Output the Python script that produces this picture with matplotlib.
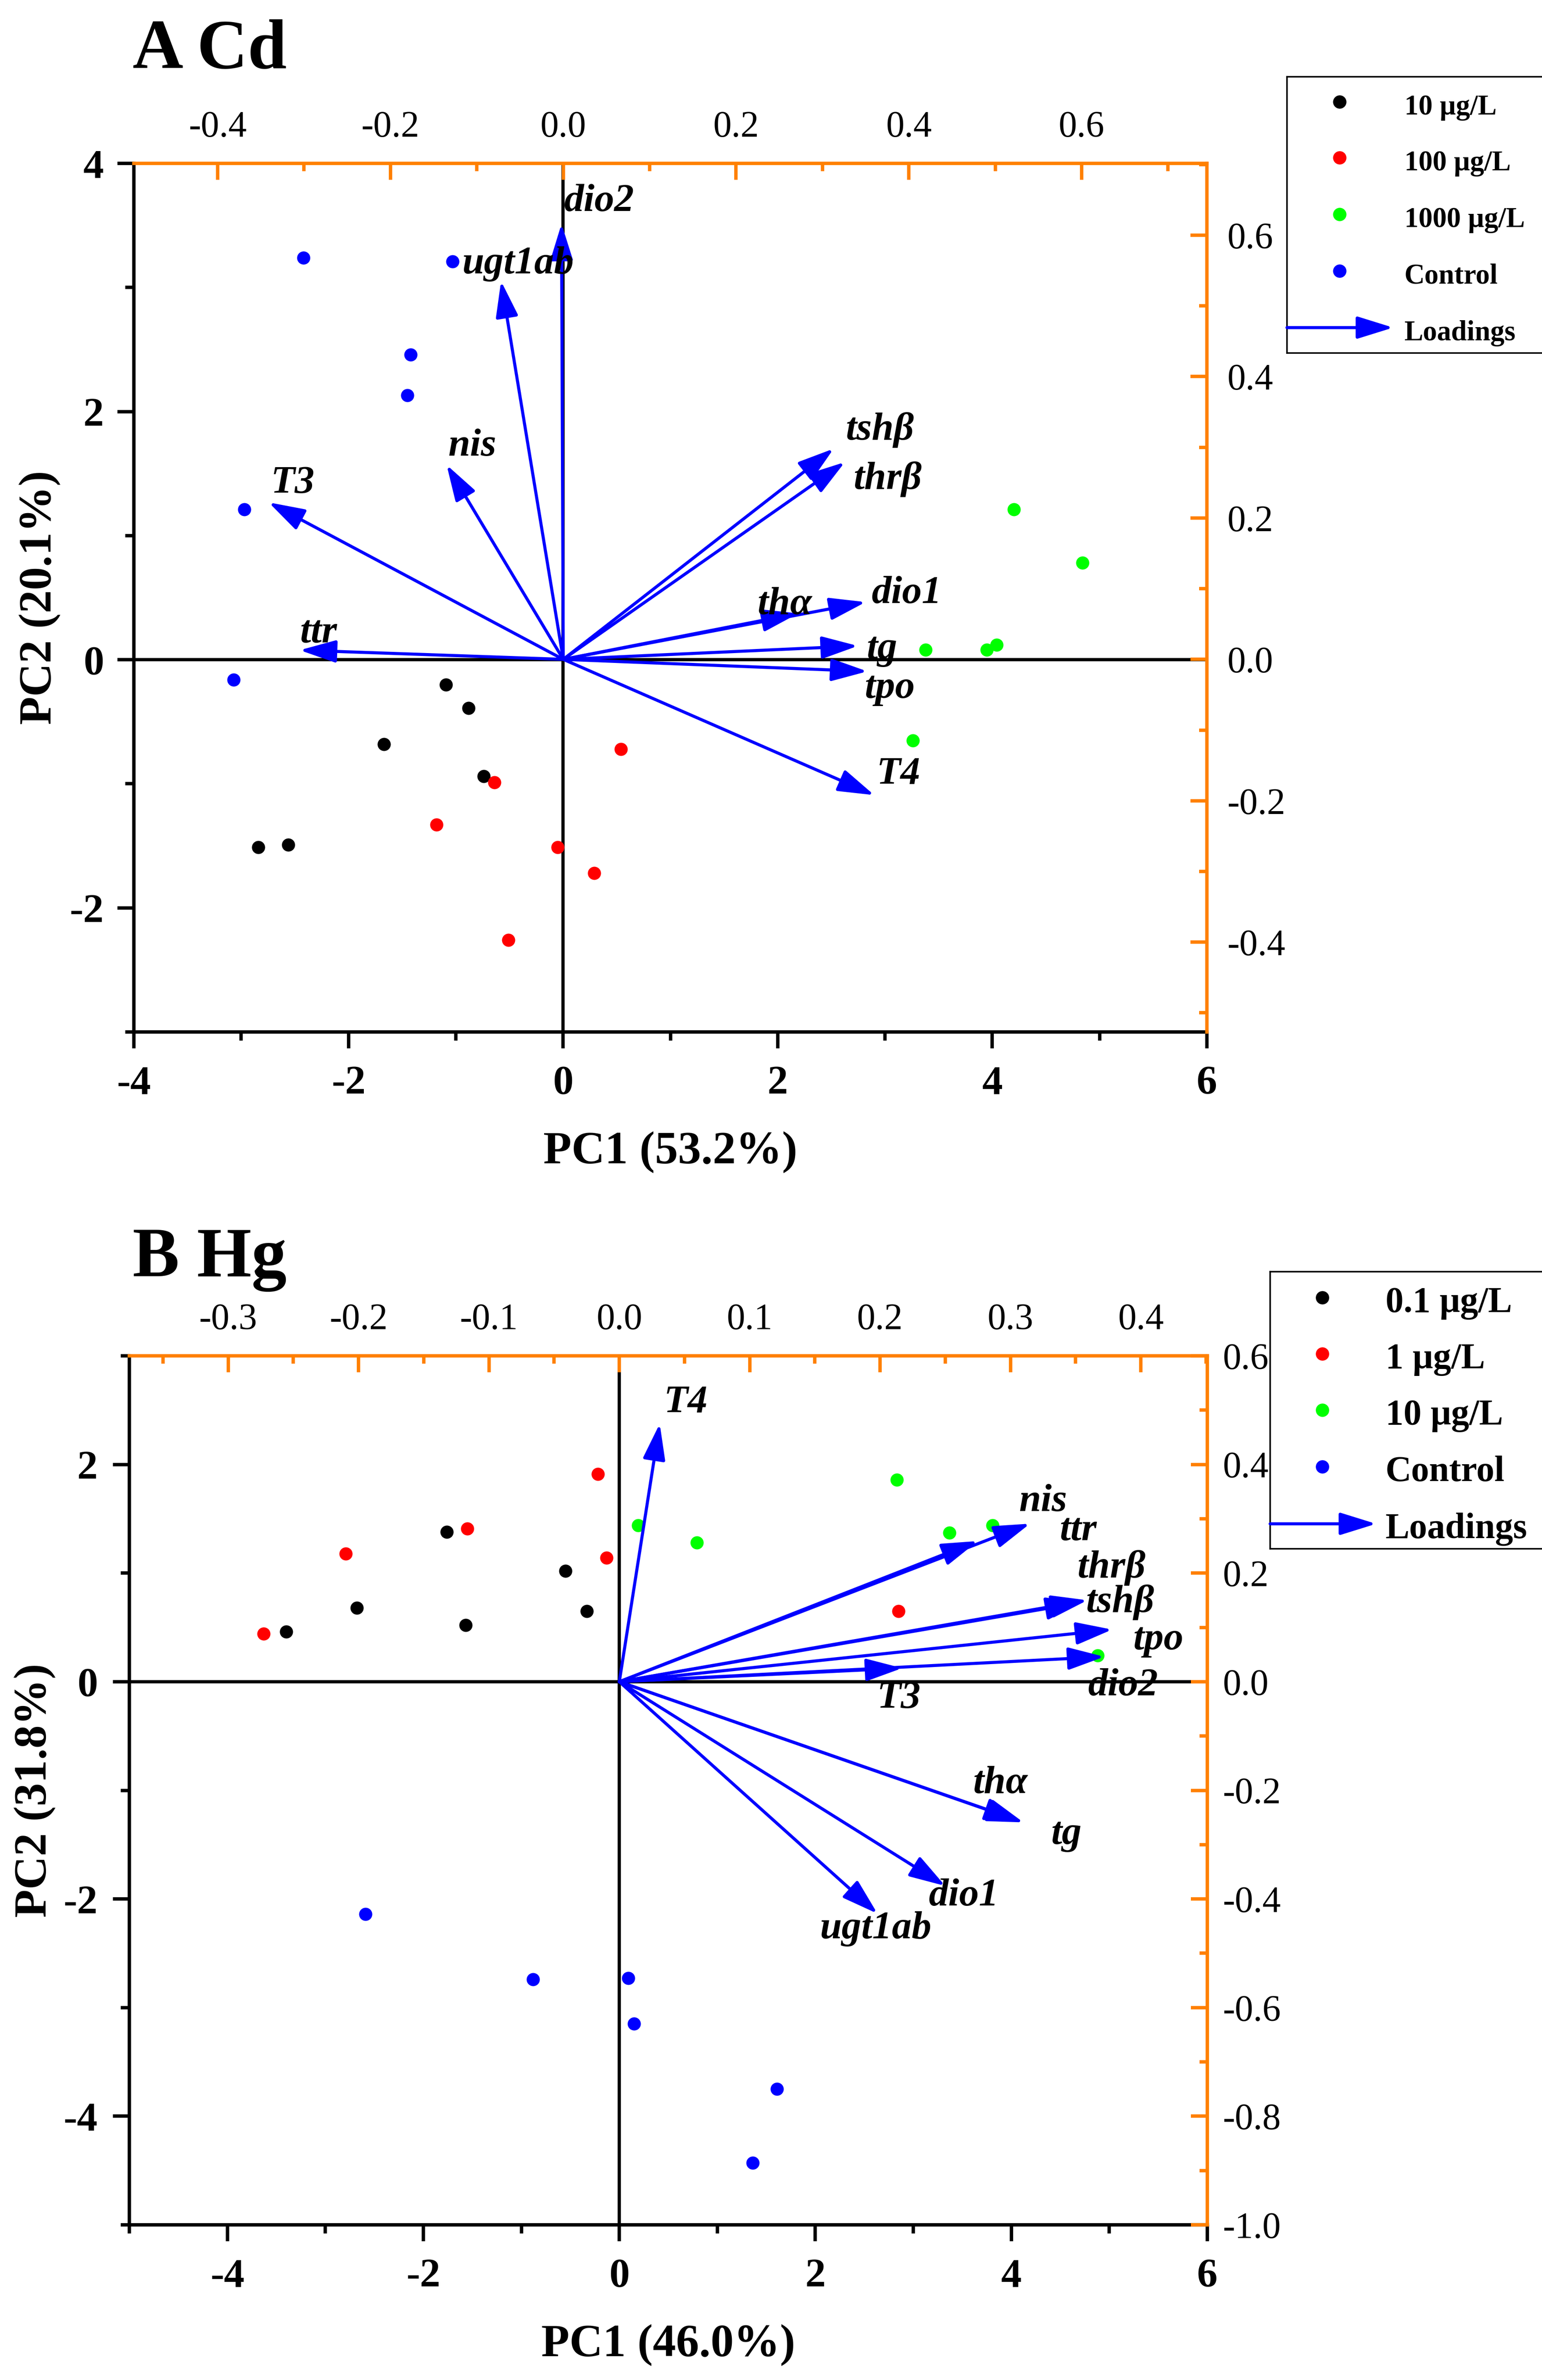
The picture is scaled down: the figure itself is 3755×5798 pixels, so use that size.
import numpy as np
import matplotlib.pyplot as plt

plt.rcParams['font.family'] = ['Liberation Serif', 'DejaVu Serif']
plt.rcParams['axes.unicode_minus'] = False

# ---- data: panel A (Cd) ----
cd_groups = ['10 µg/L', '100 µg/L', '1000 µg/L', 'Control']
cd_pc1 = [[-1.09, -0.88, -1.67, -0.74, -2.84, -2.56],
          [0.54, -0.64, -1.18, -0.05, 0.29, -0.51],
          [4.20, 4.84, 3.38, 3.95, 4.04, 3.26],
          [-2.42, -1.03, -1.42, -1.45, -2.97, -3.07]]
cd_pc2 = [[-0.20, -0.39, -0.68, -0.94, -1.51, -1.49],
          [-0.72, -0.99, -1.33, -1.51, -1.72, -2.26],
          [1.21, 0.78, 0.08, 0.08, 0.12, -0.65],
          [3.24, 3.21, 2.46, 2.13, 1.21, -0.16]]
cd_genes = ['dio2', 'ugt1ab', 'nis', 'T3', 'ttr', 'tshβ', 'thrβ', 'thα', 'dio1', 'tg', 'tpo', 'T4']
cd_load1 = [-0.002, -0.072, -0.135, -0.341, -0.305, 0.313, 0.326, 0.272, 0.350, 0.341, 0.352, 0.360]
cd_load2 = [0.616, 0.535, 0.275, 0.222, 0.013, 0.298, 0.279, 0.065, 0.081, 0.019, -0.017, -0.192]

# ---- data: panel B (Hg) ----
hg_groups = ['0.1 µg/L', '1 µg/L', '10 µg/L', 'Control']
hg_pc1 = [[-3.40, -2.68, -1.76, -1.57, -0.55, -0.33],
          [-3.63, -2.79, -1.55, -0.22, -0.13, 2.85],
          [0.19, 0.79, 2.83, 3.37, 3.81, 4.88],
          [-2.59, -0.88, 0.09, 0.15, 1.61, 1.36]]
hg_pc2 = [[0.46, 0.68, 1.38, 0.52, 1.02, 0.65],
          [0.44, 1.18, 1.41, 1.91, 1.14, 0.65],
          [1.44, 1.28, 1.86, 1.37, 1.44, 0.24],
          [-2.14, -2.74, -2.73, -3.15, -3.75, -4.43]]
hg_genes = ['T4', 'nis', 'ttr', 'thrβ', 'tshβ', 'tpo', 'dio2', 'T3', 'thα', 'tg', 'dio1', 'ugt1ab']
hg_load1 = [0.031, 0.275, 0.315, 0.359, 0.355, 0.378, 0.372, 0.217, 0.308, 0.310, 0.250, 0.198]
hg_load2 = [0.475, 0.259, 0.291, 0.150, 0.146, 0.096, 0.046, 0.025, -0.257, -0.259, -0.376, -0.427]

# label offsets (points) from arrow tips
cd_offsets = {'dio2': (22, 13), 'ugt1ab': (10, 10), 'nis': (15, 11), 'T3': (14, 11),
              'ttr': (11, 10), 'tshβ': (27, 11), 'thrβ': (25, -10), 'thα': (-8, 5),
              'dio1': (24, 5), 'tg': (14, -2), 'tpo': (13, -10), 'T4': (14, 12)}
hg_offsets = {'T4': (15, 12), 'nis': (38, 23), 'ttr': (28, -4), 'thrβ': (14, 19),
              'tshβ': (22, 0), 'tpo': (27, -6), 'dio2': (11, -17), 'T3': (-2, -18),
              'thα': (-12, 22), 'tg': (25, -7), 'dio1': (11, -6), 'ugt1ab': (-1, -9)}

colors = ['#000000', '#FF0000', '#00FF00', '#0000FF']
ORANGE = '#FF8000'
BLUE = '#0000FF'

W, H, DPI = 3755, 5798, 300
fig = plt.figure(figsize=(W / DPI, H / DPI), dpi=DPI)


def box(l, t, r, b):
    return [l / W, 1 - b / H, (r - l) / W, (b - t) / H]


def fmt1(v):
    v = round(float(v), 2)
    if abs(v) < 1e-9:
        v = 0.0
    return f'{v:.1f}'


ARROW = '-|>,head_length=0.9,head_width=0.28'


def panel(pos, xlim, ylim, lxlim, lylim, xt, yt, lxt, lyt,
          pc1, pc2, genes, l1, l2, offsets, xlabel, ylabel,
          rpad, lpad):
    ax = fig.add_axes(pos)
    ax.set_xlim(xlim)
    ax.set_ylim(ylim)
    for s in ['top', 'right']:
        ax.spines[s].set_visible(False)
    for s in ['left', 'bottom']:
        ax.spines[s].set_linewidth(2)
    ax.axhline(0, color='k', lw=1.9, zorder=1)
    ax.axvline(0, color='k', lw=1.9, zorder=1)
    for xs, ys, c in zip(pc1, pc2, colors):
        ax.plot(xs, ys, 'o', ms=7.7, color=c, mew=0, zorder=2)

    ax.set_xticks(xt[0])
    ax.set_xticklabels([str(int(v)) for v in xt[0]], fontsize=24, fontweight='bold')
    ax.set_xticks(xt[1], minor=True)
    ax.set_yticks(yt[0])
    ax.set_yticklabels([str(int(v)) for v in yt[0]], fontsize=24, fontweight='bold')
    ax.set_yticks(yt[1], minor=True)
    ax.tick_params(axis='x', which='major', direction='out', length=9.5, width=2, pad=10)
    ax.tick_params(axis='y', which='major', direction='out', length=9.5, width=2, pad=lpad)
    ax.tick_params(which='minor', direction='out', length=5, width=2)

    ax.set_xlabel(xlabel, fontsize=27, fontweight='bold', va='center')
    ax.xaxis.set_label_coords(0.5, -0.138)
    ax.set_ylabel(ylabel, fontsize=27, fontweight='bold', va='center')
    ax.yaxis.set_label_coords(-0.088, 0.5)

    axl = fig.add_axes(pos)
    axl.patch.set_alpha(0)
    axl.set_xlim(lxlim)
    axl.set_ylim(lylim)
    for s in ['left', 'bottom']:
        axl.spines[s].set_visible(False)
    for s in ['top', 'right']:
        axl.spines[s].set_color(ORANGE)
        axl.spines[s].set_linewidth(2)
    axl.xaxis.tick_top()
    axl.yaxis.tick_right()
    axl.set_xticks(lxt[0])
    axl.set_xticklabels([fmt1(v) for v in lxt[0]], fontsize=21.5)
    axl.set_xticks(lxt[1], minor=True)
    axl.set_yticks(lyt[0])
    axl.set_yticklabels([fmt1(v) for v in lyt[0]], fontsize=21.5)
    axl.set_yticks(lyt[1], minor=True)
    axl.tick_params(which='major', direction='in', length=9.5, width=2, color=ORANGE)
    axl.tick_params(which='minor', direction='in', length=4.5, width=2, color=ORANGE)
    axl.tick_params(axis='x', which='major', pad=11)
    axl.tick_params(axis='y', which='major', pad=rpad)

    for g, x, y in zip(genes, l1, l2):
        axl.annotate('', xy=(x, y), xytext=(0, 0),
                     arrowprops=dict(arrowstyle=ARROW, color=BLUE, lw=1.8,
                                     mutation_scale=20, shrinkA=0, shrinkB=0),
                     zorder=3)
        axl.annotate(g, xy=(x, y), xytext=offsets[g], textcoords='offset points',
                     ha='center', va='center', fontsize=23, fontweight='bold',
                     fontstyle='italic', zorder=4)
    return ax, axl


def legend(pos, labels, mx, tx, arrow_end, rows, fs):
    lg = fig.add_axes(pos)
    lg.set_xlim(0, 1)
    lg.set_ylim(0, 1)
    lg.set_xticks([])
    lg.set_yticks([])
    lg.spines['right'].set_visible(False)
    for s in ['left', 'top', 'bottom']:
        lg.spines[s].set_linewidth(0.9)
    for lab, c, r in zip(labels, colors, rows):
        lg.plot([mx], [1 - r], 'o', ms=7.8, color=c, mew=0)
        lg.text(tx, 1 - r - 0.02, lab, fontsize=fs, fontweight='bold', va='center', ha='left')
    r = rows[-1]
    lg.annotate('', xy=(arrow_end, 1 - r), xytext=(0, 1 - r),
                arrowprops=dict(arrowstyle=ARROW, color=BLUE, lw=1.8,
                                mutation_scale=20, shrinkA=0, shrinkB=0))
    lg.text(tx, 1 - r - 0.02, 'Loadings', fontsize=fs, fontweight='bold', va='center', ha='left')


# ---- panel A ----
panel(box(326, 398, 2939, 2514), (-4, 6), (-3, 4), (-0.497, 0.745), (-0.527, 0.7015),
      ([-4, -2, 0, 2, 4, 6], [-3, -1, 1, 3, 5]),
      ([-2, 0, 2, 4], [-3, -1, 1, 3]),
      (np.arange(-0.4, 0.61, 0.2), np.arange(-0.3, 0.71, 0.2)),
      (np.arange(-0.4, 0.61, 0.2), np.arange(-0.5, 0.71, 0.2)),
      cd_pc1, cd_pc2, cd_genes, cd_load1, cd_load2, cd_offsets,
      'PC1 (53.2%)', 'PC2 (20.1%)', rpad=12, lpad=8)
fig.text(323 / W, 1 - 166 / H, 'A Cd', fontsize=41, fontweight='bold', va='baseline', ha='left')
legend(box(3134, 187, 3820, 860), cd_groups, 0.186, 0.417, 0.377,
       [0.091, 0.293, 0.498, 0.703, 0.908], 16.5)

# ---- panel B ----
panel(box(315, 3303, 2940, 5420), (-5, 6), (-5, 3), (-0.3758, 0.451), (-1.0, 0.6),
      ([-4, -2, 0, 2, 4, 6], [-5, -3, -1, 1, 3, 5]),
      ([-4, -2, 0, 2], [-5, -3, -1, 1, 3]),
      (np.arange(-0.3, 0.41, 0.1), np.arange(-0.35, 0.451, 0.1)),
      (np.arange(-1.0, 0.61, 0.2), np.arange(-0.9, 0.51, 0.2)),
      hg_pc1, hg_pc2, hg_genes, hg_load1, hg_load2, hg_offsets,
      'PC1 (46.0%)', 'PC2 (31.8%)', rpad=9, lpad=9)
fig.text(323 / W, 1 - 3109 / H, 'B Hg', fontsize=41, fontweight='bold', va='baseline', ha='left')
legend(box(3093, 3098, 3820, 3773), hg_groups, 0.175, 0.386, 0.355,
       [0.093, 0.296, 0.499, 0.704, 0.910], 21)

fig.savefig('out.png', dpi=DPI)
